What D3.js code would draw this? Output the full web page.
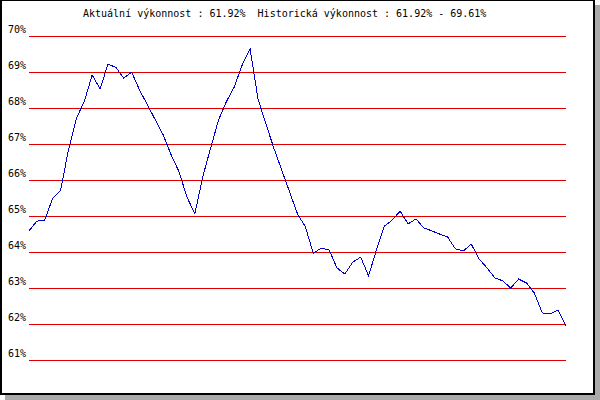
<!DOCTYPE html>
<html>
<head>
<meta charset="utf-8">
<script src="https://cdn.jsdelivr.net/npm/d3@7"></script>
<style>
  body { margin: 0; background: #fff; }
  text { font-family: "DejaVu Sans Mono", monospace; font-size: 10px; fill: #000; }
</style>
</head>
<body>
<svg width="600" height="400"></svg>
<script>
// current and historic performance
var current = 61.92, histMin = 61.92, histMax = 69.61;

// y tick values (percent)
var yTicks = [61, 62, 63, 64, 65, 66, 67, 68, 69, 70];

// performance series, one value per step
var values = [64.56, 64.83, 64.86, 65.47, 65.69, 66.81, 67.69, 68.15, 68.89, 68.50,
              69.19, 69.10, 68.80, 68.97, 68.47, 68.06, 67.64, 67.22, 66.67, 66.20,
              65.50, 65.03, 66.06, 66.86, 67.64, 68.15, 68.56, 69.17, 69.61, 68.22,
              67.53, 66.86, 66.25, 65.64, 65.03, 64.67, 63.94, 64.08, 64.03, 63.53,
              63.36, 63.69, 63.83, 63.31, 64.03, 64.69, 64.86, 65.11, 64.75, 64.89,
              64.64, 64.56, 64.47, 64.39, 64.06, 64.00, 64.19, 63.78, 63.53, 63.25,
              63.17, 62.97, 63.22, 63.11, 62.83, 62.28, 62.25, 62.36, 61.92];

var svg = d3.select("svg");

// frame with drop shadow
svg.append("rect").attr("x", 595).attr("y", 5).attr("width", 5).attr("height", 395).attr("fill", "#aaaaaa");
svg.append("rect").attr("x", 5).attr("y", 395).attr("width", 595).attr("height", 5).attr("fill", "#aaaaaa");
svg.append("rect").attr("x", 0).attr("y", 0).attr("width", 595).attr("height", 395).attr("fill", "#000");
svg.append("rect").attr("x", 2).attr("y", 1).attr("width", 591).attr("height", 392).attr("fill", "#fff");

var left = 29, right = 566;

var x = d3.scaleLinear().domain([0, values.length - 1]).range([left, right]),
    y = d3.scaleLinear().domain([61, 70]).range([359, 35]);

// gridlines + labels through the axis
var axis = svg.append("g")
    .attr("transform", "translate(" + left + ",0.5)")
    .call(d3.axisLeft(y)
        .tickValues(yTicks)
        .tickSize(-(right - left))
        .tickFormat(function(d) { return d + "%"; }));

axis.select(".domain").remove();
axis.selectAll(".tick line")
    .attr("stroke", "#e00000")
    .attr("shape-rendering", "crispEdges");
axis.selectAll(".tick text")
    .attr("x", -21)
    .attr("dy", "-3")
    .attr("text-anchor", "start")
    .attr("font-family", "DejaVu Sans Mono")
    .attr("font-size", "10px")
    .attr("fill", "#000");

// title
svg.append("text")
    .attr("x", 83)
    .attr("y", 17)
    .style("white-space", "pre")
    .text("Aktuální výkonnost : " + current.toFixed(2) + "%  Historická výkonnost : " +
          histMin.toFixed(2) + "% - " + histMax.toFixed(2) + "%");

// the line
var line = d3.line()
    .x(function(d, i) { return x(i); })
    .y(function(d) { return y(d); });

svg.append("path")
    .datum(values)
    .attr("d", line)
    .attr("fill", "none")
    .attr("stroke", "#0000cc")
    .attr("stroke-width", 1)
    .attr("shape-rendering", "crispEdges");
</script>
</body>
</html>
